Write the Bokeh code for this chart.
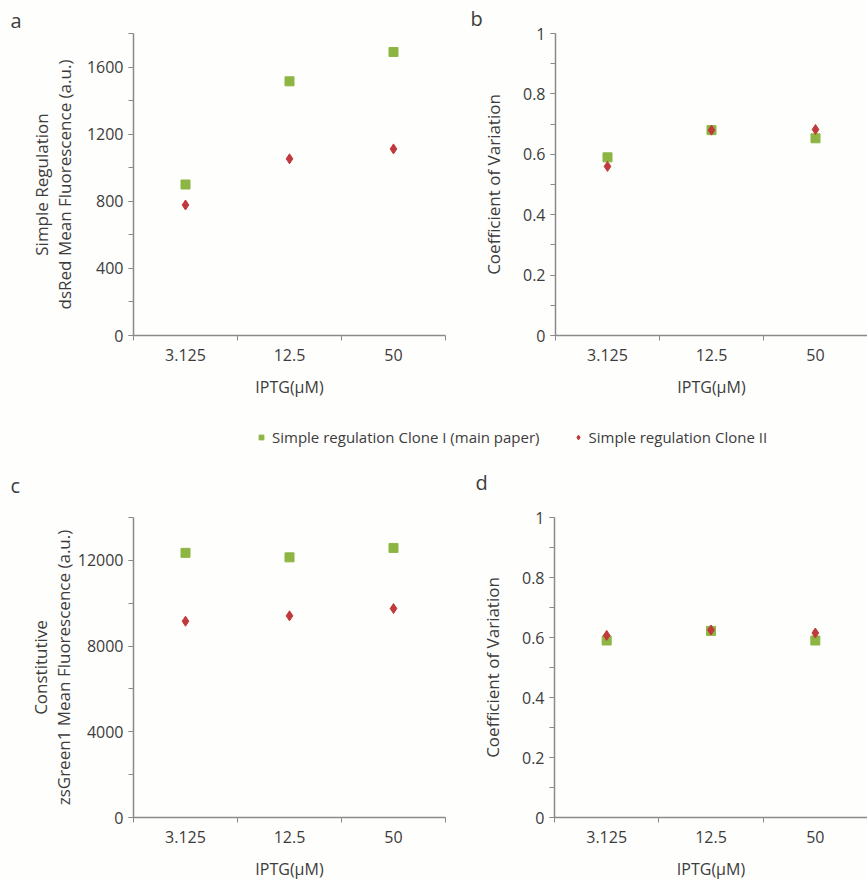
import numpy as np
from bokeh.plotting import figure
from bokeh.layouts import column, row
from bokeh.models import (Range1d, FixedTicker, NumeralTickFormatter, Title, Label, Legend, LegendItem)
from bokeh.embed import file_html
from bokeh.resources import INLINE

# ---------------- data ----------------
iptg = ["3.125", "12.5", "50"]

# a: Simple regulation dsRed mean fluorescence
a_clone1 = [900, 1515, 1690]
a_clone2 = [778, 1053, 1112]
# b: Coefficient of variation (simple regulation)
b_clone1 = [0.59, 0.68, 0.653]
b_clone2 = [0.56, 0.68, 0.682]
# c: Constitutive zsGreen1 mean fluorescence
c_clone1 = [12350, 12140, 12580]
c_clone2 = [9160, 9410, 9750]
# d: Coefficient of variation (constitutive)
d_clone1 = [0.59, 0.622, 0.59]
d_clone2 = [0.607, 0.625, 0.615]

legend_labels = ["Simple regulation Clone I (main paper)", "Simple regulation Clone II"]

# ---------------- style ----------------
FONT = "Open Sans"
TXT = "#3c3c3c"
AXC = "#8a8a8a"
GREEN = "#8DB543"
RED = "#C0393B"
BG = "#fefefc"

xpos = np.arange(len(iptg)) + 0.5
xlabels = {float(x): lab for x, lab in zip(xpos, iptg)}


def panel(width, height, borders, ymax, ymajor, yminor, ylabel, yfmt, label_standoff,
          s1, s2, letter=None, letter_offset=0, letter_standoff=0, ssize=9, dsize=10):
    left, right, top, bottom = borders
    p = figure(width=width, height=height, output_backend="svg", toolbar_location=None,
               x_range=Range1d(0, len(iptg)), y_range=Range1d(0, ymax),
               min_border_left=left, min_border_right=right,
               min_border_top=top, min_border_bottom=bottom,
               background_fill_color=BG, border_fill_color=BG)
    p.outline_line_color = None
    p.grid.visible = False

    p.scatter(xpos, s1, marker="square", size=ssize, color=GREEN, line_color=GREEN)
    p.scatter(xpos, s2, marker="diamond", size=dsize, color=RED, line_color=RED)

    # x axis
    xa = p.xaxis[0]
    xa.ticker = FixedTicker(ticks=list(xpos), minor_ticks=list(np.arange(len(iptg) + 1)))
    xa.major_label_overrides = xlabels
    xa.major_tick_line_color = None
    xa.major_tick_out = 0
    xa.major_tick_in = 0
    xa.minor_tick_out = 5
    xa.minor_tick_in = 0
    xa.minor_tick_line_color = AXC
    xa.axis_line_color = AXC
    xa.axis_line_width = 1.5
    xa.axis_label = "IPTG(\u03bcM)"
    xa.axis_label_standoff = 12
    xa.major_label_standoff = 8
    xa.axis_label_text_font = FONT
    xa.axis_label_text_font_style = "normal"
    xa.axis_label_text_font_size = "16px"
    xa.axis_label_text_color = TXT
    xa.major_label_text_font = FONT
    xa.major_label_text_font_size = "16px"
    xa.major_label_text_color = TXT

    # y axis
    ya = p.yaxis[0]
    ya.ticker = FixedTicker(ticks=ymajor, minor_ticks=yminor)
    if yfmt is not None:
        ya.formatter = yfmt
    ya.major_tick_out = 5
    ya.major_tick_in = 0
    ya.minor_tick_out = 5
    ya.minor_tick_in = 0
    ya.major_tick_line_color = AXC
    ya.minor_tick_line_color = AXC
    ya.axis_line_color = AXC
    ya.axis_line_width = 1.5
    ya.major_label_standoff = 5
    ya.axis_label = ylabel
    ya.axis_label_standoff = label_standoff
    ya.axis_label_text_font = FONT
    ya.axis_label_text_font_style = "normal"
    ya.axis_label_text_font_size = "17px"
    ya.axis_label_text_line_height = 1.0
    ya.axis_label_text_color = TXT
    ya.major_label_text_font = FONT
    ya.major_label_text_font_size = "16px"
    ya.major_label_text_color = TXT

    if letter is not None:
        p.add_layout(Title(text=letter, align="left", offset=letter_offset, standoff=letter_standoff,
                           text_font=FONT, text_font_size="20px", text_font_style="normal",
                           text_color=TXT), "above")
    return p


pa = panel(455, 415, (133, 10, 29, 80), 1800,
           list(range(0, 1601, 400)), list(range(0, 1801, 200)),
           "Simple Regulation\ndsRed Mean Fluorescence (a.u.)", None, 8,
           a_clone1, a_clone2, "a", -123, 0)

pb = panel(412, 415, (100, 0, 33, 80), 1,
           [0, 0.2, 0.4, 0.6, 0.8, 1.0], [i / 10 for i in range(11)],
           "Coefficient of Variation", NumeralTickFormatter(format="0.[0]"), 15,
           b_clone1, b_clone2, "b", -85, 4)

BOT_H = 381
pc = panel(455, BOT_H, (133, 10, 16, 64), 14000,
           list(range(0, 12001, 4000)), list(range(0, 14001, 2000)),
           "Constitutive\nzsGreen1 Mean Fluorescence (a.u.)", None, 0,
           c_clone1, c_clone2)

pd_ = panel(412, BOT_H, (99, 0, 12, 64), 1,
            [0, 0.2, 0.4, 0.6, 0.8, 1.0], [i / 10 for i in range(11)],
            "Coefficient of Variation", NumeralTickFormatter(format="0.[0]"), 15,
            d_clone1, d_clone2)

# legend row (also carries the letters of the lower panels)
LEG_H = 882 - 415 - BOT_H
pl = figure(width=867, height=LEG_H, output_backend="svg", toolbar_location=None,
            x_range=Range1d(0, 1), y_range=Range1d(0, 1),
            min_border=0, background_fill_color=BG, border_fill_color=BG)
pl.axis.visible = False
pl.grid.visible = False
pl.outline_line_color = None
# legend proxies, placed outside the visible range
r1 = pl.scatter(x=[-10], y=[-10], marker="square", size=8, color=GREEN)
r2 = pl.scatter(x=[-10], y=[-10], marker="diamond", size=11, color=RED)
leg = Legend(items=[LegendItem(label=legend_labels[0], renderers=[r1], index=0),
                    LegendItem(label=legend_labels[1], renderers=[r2], index=0)],
             orientation="horizontal", location=(255, LEG_H - 32),
             label_text_font=FONT, label_text_font_size="15px", label_text_color=TXT,
             glyph_width=12, glyph_height=20, label_standoff=5, spacing=32,
             padding=0, margin=0, border_line_color=None, background_fill_alpha=0)
pl.add_layout(leg)
for txt, sx, sy in [("c", 10, 16), ("d", 475, 19)]:
    pl.add_layout(Label(x=sx, y=sy, x_units="screen", y_units="screen", text=txt,
                        text_font=FONT, text_font_size="20px", text_color=TXT,
                        text_baseline="middle", text_align="left"))

layout = column(row(pa, pb), pl, row(pc, pd_))

open("out.html", "w").write(file_html(layout, INLINE))
